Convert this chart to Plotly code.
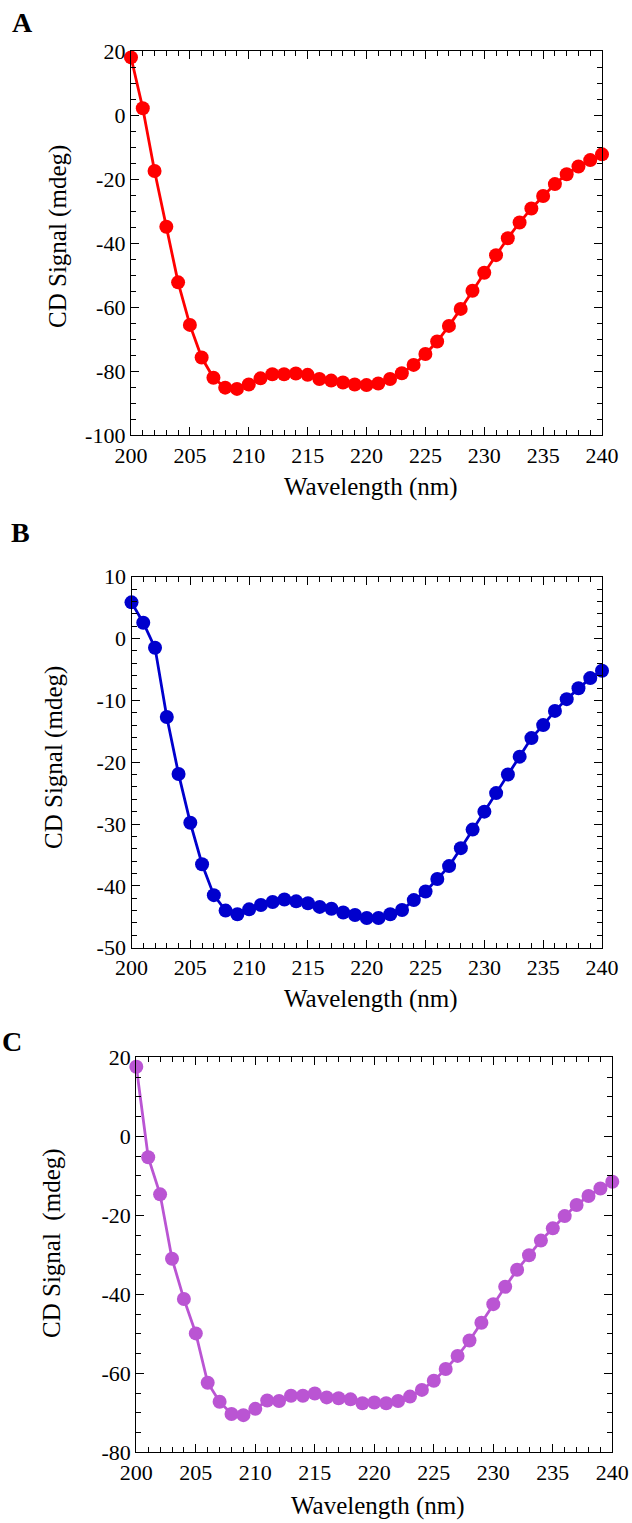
import plotly.graph_objects as go

wavelength = list(range(200, 241))

cd_a = [18.0, 2.1, -17.5, -34.9, -52.3, -65.6, -75.8, -82.1, -85.2, -85.6,
        -84.2, -82.3, -81.0, -81.0, -80.8, -81.2, -82.5, -83.0, -83.6, -84.2,
        -84.4, -83.9, -82.5, -80.7, -78.1, -74.7, -70.8, -65.9, -60.6, -54.9,
        -49.3, -43.8, -38.5, -33.6, -29.2, -25.3, -21.6, -18.5, -16.1, -14.1,
        -12.3]

cd_b = [5.85, 2.56, -1.5, -12.7, -21.9, -29.8, -36.5, -41.5, -44.0, -44.6,
        -43.8, -43.1, -42.6, -42.2, -42.5, -42.8, -43.4, -43.7, -44.3, -44.7,
        -45.2, -45.2, -44.6, -43.9, -42.3, -40.9, -38.9, -36.8, -33.9, -30.9,
        -28.0, -25.0, -22.0, -19.1, -16.1, -14.0, -11.7, -9.8, -8.05, -6.4,
        -5.2]

cd_c = [17.6, -5.3, -14.7, -31.0, -41.2, -49.9, -62.4, -67.2, -70.3, -70.6,
        -69.0, -66.9, -67.0, -65.7, -65.7, -65.1, -66.1, -66.3, -66.6, -67.6,
        -67.4, -67.6, -67.0, -65.9, -64.2, -61.9, -58.9, -55.6, -51.7, -47.2,
        -42.5, -38.1, -33.8, -30.1, -26.4, -23.3, -20.2, -17.4, -15.1, -13.2,
        -11.5]

x_ticks = [200, 205, 210, 215, 220, 225, 230, 235, 240]
x_ticktext = ["200", "205", "210", "215", "220", "225", "230", "235", "240"]

ya_ticks = [-100, -80, -60, -40, -20, 0, 20]
ya_text = ["-100", "-80", "-60", "-40", "-20", "0", "20"]
yb_ticks = [-50, -40, -30, -20, -10, 0, 10]
yb_text = ["-50", "-40", "-30", "-20", "-10", "0", "10"]
yc_ticks = [-80, -60, -40, -20, 0, 20]
yc_text = ["-80", "-60", "-40", "-20", "0", "20"]

panel_labels = ["A", "B", "C"]
x_title = "Wavelength (nm)"
y_titles = ["CD Signal (mdeg)", "CD Signal (mdeg)", "CD Signal\u00a0 (mdeg)"]

colors = ["#FF0000", "#0000CD", "#BA55D3"]

W, H = 632, 1523
FONT = "Liberation Serif, Times New Roman, serif"

# pixel boxes of the plot areas: (left, right, top, bottom)
boxes = [(131, 602, 51, 435), (131.5, 602, 576.7, 947.7), (136.3, 612.3, 1057.3, 1452.3)]
yranges = [(-100, 20), (-50, 10), (-80, 20)]
ydticks = [5, 2, 5]
yticks = [(ya_ticks, ya_text), (yb_ticks, yb_text), (yc_ticks, yc_text)]
series = [cd_a, cd_b, cd_c]

fig = go.Figure()
layout = dict(width=W, height=H, autosize=False, margin=dict(l=0, r=0, t=0, b=0, pad=0),
              plot_bgcolor="white", paper_bgcolor="white", showlegend=False,
              font=dict(family=FONT, color="black"))
annotations = []

for i in range(3):
    l, r, t, b = boxes[i]
    sfx = "" if i == 0 else str(i + 1)
    fig.add_trace(go.Scatter(x=wavelength, y=series[i], mode="lines+markers",
                             line=dict(color=colors[i], width=2.8),
                             marker=dict(color=colors[i], size=14),
                             cliponaxis=False,
                             xaxis="x" + sfx, yaxis="y" + sfx))
    common = dict(showline=True, linecolor="black", linewidth=1.3, mirror="ticks",
                  ticks="inside", tickcolor="black", tickwidth=1.2, showgrid=False,
                  zeroline=False, automargin=False,
                  tickfont=dict(family=FONT, size=22, color="black"))
    layout["xaxis" + sfx] = dict(common, domain=[l / W, r / W], range=[200, 240],
                                 anchor="y" + sfx, tickvals=x_ticks, ticktext=x_ticktext,
                                 ticklen=8,
                                 minor=dict(dtick=1, tick0=200, ticks="inside", ticklen=5,
                                            tickcolor="black", tickwidth=1.2, showgrid=False))
    tv, tt = yticks[i]
    layout["yaxis" + sfx] = dict(common, domain=[1 - b / H, 1 - t / H], range=list(yranges[i]),
                                 anchor="x" + sfx, tickvals=tv, ticktext=tt, ticklen=8,
                                 minor=dict(dtick=ydticks[i], tick0=0, ticks="inside", ticklen=5,
                                            tickcolor="black", tickwidth=1.2, showgrid=False))

# titles & panel letters
xt_pos = [(370.5, 487), (370.5, 999), (377.5, 1506)]
yt_pos = [(58, 237), (54, 758), (52, 1243)]
lab_pos = [(22, 22), (21, 532), (12, 1041)]
for i in range(3):
    annotations.append(dict(text=x_title, x=xt_pos[i][0] / W, y=1 - xt_pos[i][1] / H,
                            xref="paper", yref="paper", showarrow=False,
                            xanchor="center", yanchor="middle",
                            font=dict(family=FONT, size=25, color="black")))
    annotations.append(dict(text=y_titles[i], x=yt_pos[i][0] / W, y=1 - yt_pos[i][1] / H,
                            xref="paper", yref="paper", showarrow=False, textangle=-90,
                            xanchor="center", yanchor="middle",
                            font=dict(family=FONT, size=25, color="black")))
    annotations.append(dict(text="<b>" + panel_labels[i] + "</b>", x=lab_pos[i][0] / W,
                            y=1 - lab_pos[i][1] / H, xref="paper", yref="paper",
                            showarrow=False, xanchor="center", yanchor="middle",
                            font=dict(family=FONT, size=28, color="black")))

layout["annotations"] = annotations
fig.update_layout(**layout)
fig.write_html("out.html", config={"responsive": False, "displayModeBar": False},
               post_script="document.body.style.margin='0';document.body.style.overflow='hidden';")
